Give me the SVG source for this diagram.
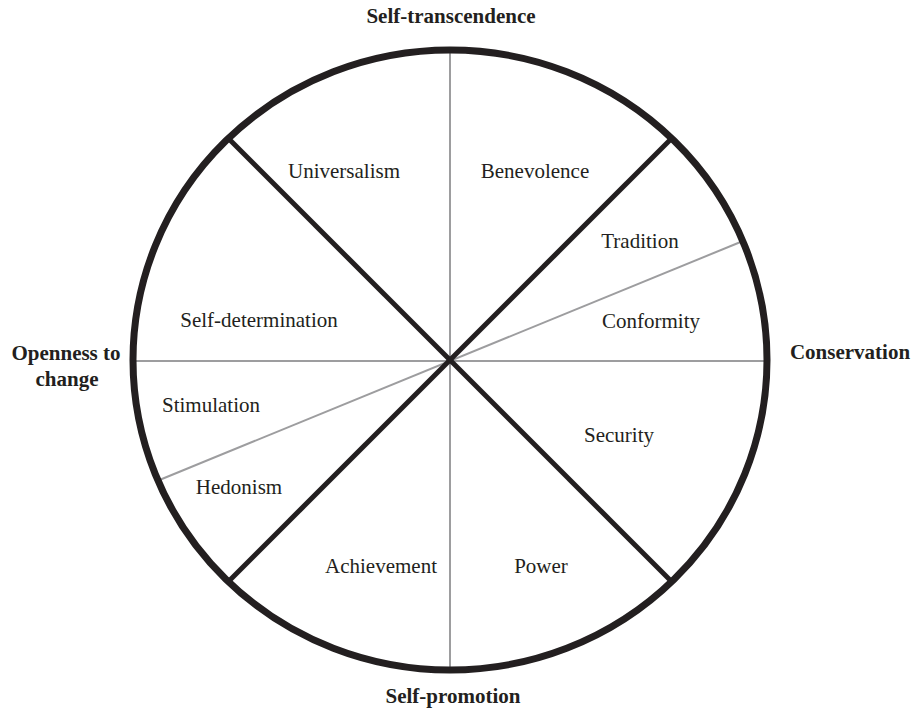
<svg xmlns="http://www.w3.org/2000/svg" width="914" height="712" viewBox="0 0 914 712">
<style>
.lbl{font-family:"Liberation Serif","Times New Roman",serif;font-size:21px;fill:#231f20;text-anchor:middle}
.hd{font-family:"Liberation Serif","Times New Roman",serif;font-size:21px;font-weight:bold;fill:#231f20;text-anchor:middle}
.thin{stroke:#9d9d9f;stroke-width:2;fill:none}
.thick{stroke:#231f20;stroke-width:5;fill:none}
</style>
<rect width="914" height="712" fill="#fff"/>
<g id="connectors">
<line class="thin" x1="450" y1="50" x2="450" y2="670"/>
<line class="thin" x1="134" y1="361" x2="767" y2="361"/>
<line class="thin" x1="743" y1="241" x2="157" y2="481"/>
<line class="thick" x1="228" y1="138" x2="672" y2="582"/>
<line class="thick" x1="672" y1="138" x2="228" y2="582"/>
</g>
<g id="circle">
<ellipse cx="450" cy="360" rx="317" ry="310" fill="none" stroke="#231f20" stroke-width="7"/>
</g>
<g id="self-transcendence"><text class="hd" x="451" y="23">Self-transcendence</text></g>
<g id="self-promotion"><text class="hd" x="453" y="703">Self-promotion</text></g>
<g id="conservation"><text class="hd" x="850" y="359">Conservation</text></g>
<g id="openness"><text class="hd" x="66" y="360">Openness to</text><text class="hd" x="67" y="386">change</text></g>
<g id="universalism"><text class="lbl" x="344" y="178">Universalism</text></g>
<g id="benevolence"><text class="lbl" x="535" y="178">Benevolence</text></g>
<g id="tradition"><text class="lbl" x="640" y="248">Tradition</text></g>
<g id="conformity"><text class="lbl" x="651" y="328">Conformity</text></g>
<g id="self-determination"><text class="lbl" x="259" y="327">Self-determination</text></g>
<g id="stimulation"><text class="lbl" x="211" y="412">Stimulation</text></g>
<g id="hedonism"><text class="lbl" x="239" y="494">Hedonism</text></g>
<g id="security"><text class="lbl" x="619" y="442">Security</text></g>
<g id="achievement"><text class="lbl" x="381" y="573">Achievement</text></g>
<g id="power"><text class="lbl" x="541" y="573">Power</text></g>
</svg>
